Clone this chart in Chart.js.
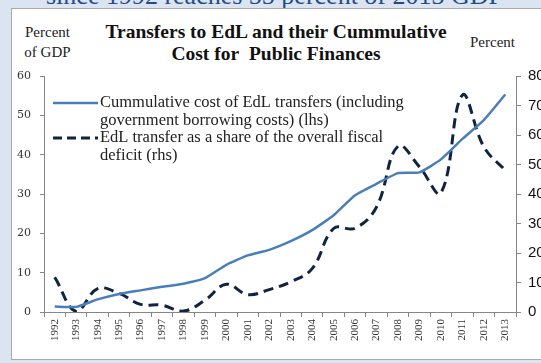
<!DOCTYPE html>
<html>
<head>
<meta charset="utf-8">
<script src="https://cdn.jsdelivr.net/npm/chart.js@4"></script>
<style>
  html, body { margin: 0; padding: 0; }
  body { width: 541px; height: 363px; background: #dbe5f1; position: relative; overflow: hidden; font-family: "Liberation Serif", serif; }
  .headline { position: absolute; left: 46px; top: -19px; font-size: 26px; color: #254a86; white-space: nowrap; }
  .panel { position: absolute; left: 11px; top: 8px; width: 540px; height: 350px; background: #fff; border: 1px solid #a9a9a9; }
  .lbl { position: absolute; color: #222; font-size: 15px; line-height: 20px; }
  .title { position: absolute; left: 56px; width: 440px; top: 21px; text-align: center; font-weight: bold; font-size: 19.5px; line-height: 22px; color: #111; }
  canvas { position: absolute; left: 0; top: 0; }
</style>
</head>
<body>
<div class="headline">since 1992 reaches 55 percent of 2013 GDP</div>
<div class="panel"></div>
<div class="lbl" style="left:10px; width:75px; top:22px; text-align:center;">Percent<br>of GDP</div>
<div class="lbl" style="left:470px; top:32px;">Percent</div>
<div class="title">Transfers to EdL and their Cummulative<br>Cost for&nbsp; Public Finances</div>
<canvas id="chart" width="541" height="363"></canvas>
<script>
// years on the x axis
const years = ['1992', '1993', '1994', '1995', '1996', '1997', '1998', '1999', '2000', '2001', '2002',
  '2003', '2004', '2005', '2006', '2007', '2008', '2009', '2010', '2011', '2012', '2013']
// cumulative cost of EdL transfers, percent of GDP (lhs)
const cumulativeCost = [1.4, 1.3, 3.2, 4.6, 5.5, 6.4, 7.2, 8.6, 12.0, 14.4, 15.8,
  18.0, 20.8, 24.6, 29.7, 32.6, 35.3, 35.5, 38.8, 44.0, 48.8, 55.3]
// EdL transfer as a share of the overall fiscal deficit, percent (rhs)
const shareOfDeficit = [11.8, 0.2, 7.9, 6.3, 2.6, 2.3, 0.3, 4.0, 9.4, 5.9, 7.6,
  10.2, 14.7, 28.3, 28.4, 35.6, 56.2, 49.2, 40.4, 73.5, 56.0, 48.0]
const lhsTicks = [0, 10, 20, 30, 40, 50, 60]
const rhsTicks = [0, 10, 20, 30, 40, 50, 60, 70, 80]

const axisGrey = '#868686'
const solidBlue = '#4a7ebb'
const navy = '#10243f'

const legendLines = [
  { color: solidBlue, dash: [], text: ['Cummulative cost of EdL transfers (including', 'government borrowing costs) (lhs)'] },
  { color: navy, dash: [9, 5], text: ['EdL transfer as a share of the overall fiscal', 'deficit (rhs)'] },
]

const legendPlugin = {
  id: 'boxLegend',
  afterDraw(chart) {
    const ctx = chart.ctx
    ctx.save()
    ctx.font = '16.5px "Liberation Serif"'
    ctx.fillStyle = '#222'
    ctx.textBaseline = 'middle'
    let y = 103
    legendLines.forEach((it) => {
      ctx.strokeStyle = it.color
      ctx.lineWidth = it.dash.length ? 3 : 2.5
      ctx.setLineDash(it.dash)
      ctx.beginPath(); ctx.moveTo(53, y); ctx.lineTo(98, y); ctx.stroke()
      it.text.forEach((t, i) => ctx.fillText(t, 100, y + i * 17.5))
      y += 35
    })
    ctx.restore()
  },
}

new Chart(document.getElementById('chart'), {
  type: 'line',
  data: {
    labels: years,
    datasets: [
      { data: cumulativeCost, yAxisID: 'y', borderColor: solidBlue, borderWidth: 2.5, pointRadius: 0, tension: 0.15 },
      { data: shareOfDeficit, yAxisID: 'y2', borderColor: navy, borderWidth: 3, borderDash: [10, 6], pointRadius: 0, tension: 0.4 },
    ],
  },
  options: {
    responsive: false,
    animation: false,
    layout: { padding: { top: 76, left: 0, right: 0, bottom: 0 } },
    plugins: { legend: { display: false }, title: { display: false }, tooltip: { enabled: false } },
    scales: {
      x: {
        offset: true,
        grid: { offset: true, drawOnChartArea: false, tickLength: 5, color: axisGrey },
        border: { color: axisGrey },
        ticks: { minRotation: 90, maxRotation: 90, autoSkip: false, padding: 2, color: '#333', font: { family: 'Liberation Serif', size: 11 } },
        afterFit: (s) => { s.height = 51 },
      },
      y: {
        position: 'left', min: 0, max: 60,
        afterBuildTicks: (s) => { s.ticks = lhsTicks.map((v) => ({ value: v })) },
        grid: { drawOnChartArea: false, tickLength: 4, color: axisGrey },
        border: { color: axisGrey },
        ticks: { padding: 9, color: '#333', font: { family: 'DejaVu Serif', size: 11 } },
        afterFit: (s) => { s.width = 44 },
      },
      y2: {
        position: 'right', min: 0, max: 80,
        afterBuildTicks: (s) => { s.ticks = rhsTicks.map((v) => ({ value: v })) },
        grid: { drawOnChartArea: false, tickLength: 5, color: axisGrey },
        border: { color: axisGrey },
        ticks: { padding: 7, color: '#111', font: { family: 'Liberation Sans', size: 15 } },
        afterFit: (s) => { s.width = 25 },
      },
    },
  },
  plugins: [legendPlugin],
})
</script>
</body>
</html>
